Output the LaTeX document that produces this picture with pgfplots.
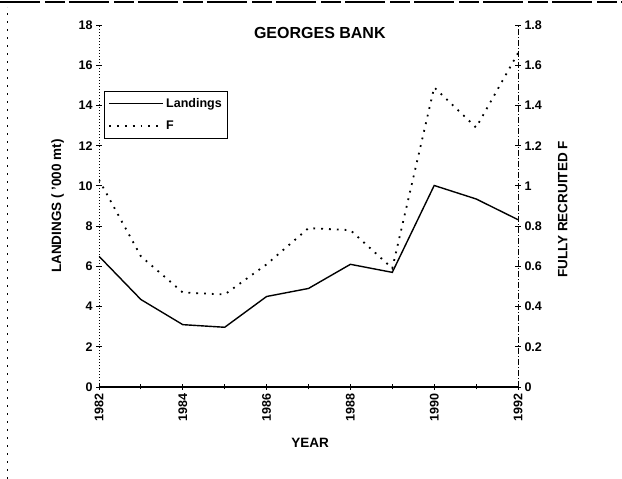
\documentclass[border=0pt]{standalone}
\usepackage{fontspec}
\setmainfont{Liberation Sans}
\usepackage{pgfplots}
\pgfplotsset{compat=1.18}
\begin{document}
\begin{tikzpicture}[x=1pt,y=1pt]
\path[use as bounding box] (-99,-92) rectangle (523,387);
\pgfplotsset{
  common/.style={
    scale only axis, width=419pt, height=362pt,
    at={(0,0)}, anchor=south west,
    xmin=1982, xmax=1992,
    tick align=center, major tick length=6pt, minor tick length=5pt,
    tick style={black, line width=0.8pt},
    /pgf/number format/assume math mode=true,
    tick label style={font=\fontsize{12.5}{14}\selectfont\bfseries},
    label style={font=\fontsize{13.5}{15}\selectfont\bfseries},
  }
}
\begin{axis}[common,
  ymin=0, ymax=18, ytick={0,2,4,6,8,10,12,14,16,18},
  axis x line*=bottom, axis y line*=left,
  x axis line style={-, line width=1.2pt},
  y axis line style={-, line width=0.6pt, dash pattern=on 1pt off 2pt},
  xtick={1982,1984,1986,1988,1990,1992}, minor xtick={1983,1985,1987,1989,1991},
  xticklabel style={rotate=90, anchor=east, /pgf/number format/1000 sep={}},
  xlabel={YEAR}, ylabel={LANDINGS ( '000 mt)},
  xlabel style={at={(axis description cs:0.504,0)}, anchor=center, yshift=-56pt},
  ylabel style={at={(axis description cs:-0.099,0.5)}, anchor=center},
  legend style={at={(axis description cs:0.012,0.818)}, anchor=north west,
    draw=black, line width=0.8pt, font=\fontsize{12.5}{14}\selectfont\bfseries,
    inner xsep=4pt, inner ysep=5pt, row sep=8pt},
  legend cell align=left,
  legend image code/.code={\draw[#1] (0pt,0pt) -- (54pt,0pt);},
]
\addplot[black, line width=1.4pt] coordinates {
(1982,6.5) (1983,4.35) (1984,3.1) (1985,2.97) (1986,4.5) (1987,4.9)
(1988,6.1) (1989,5.7) (1990,10.02) (1991,9.35) (1992,8.32)};
\addlegendentry{Landings}
\addlegendimage{black, line width=1.8pt, dash pattern=on 1.8pt off 6pt}
\addlegendentry{F}
\node[font=\fontsize{16}{18}\selectfont\bfseries] at (rel axis cs:0.527,0.978) {GEORGES BANK};
\end{axis}
\begin{axis}[common,
  ymin=0, ymax=1.8, ytick={0,0.2,0.4,0.6,0.8,1,1.2,1.4,1.6,1.8},
  axis y line*=right, axis x line=none, xtick={},
  y axis line style={-, line width=0.8pt, dash pattern=on 6pt off 2pt on 1pt off 2pt},
  ylabel={FULLY RECRUITED F},
  ylabel style={at={(axis description cs:1.107,0.49)}, anchor=center, rotate=0},
]
\addplot[black, line width=1.8pt, dash pattern=on 1.8pt off 6pt] coordinates {
(1982,1.03) (1983,0.65) (1984,0.47) (1985,0.46) (1986,0.61) (1987,0.79)
(1988,0.78) (1989,0.59) (1990,1.49) (1991,1.29) (1992,1.66)};
\end{axis}
\draw[line width=1.5pt, dash pattern=on 40pt off 5pt on 20pt off 4pt] (-99,385) -- (523,385);
\draw[line width=0.6pt, dash pattern=on 2pt off 6pt] (-92,-92) -- (-92,380);
\end{tikzpicture}
\end{document}
